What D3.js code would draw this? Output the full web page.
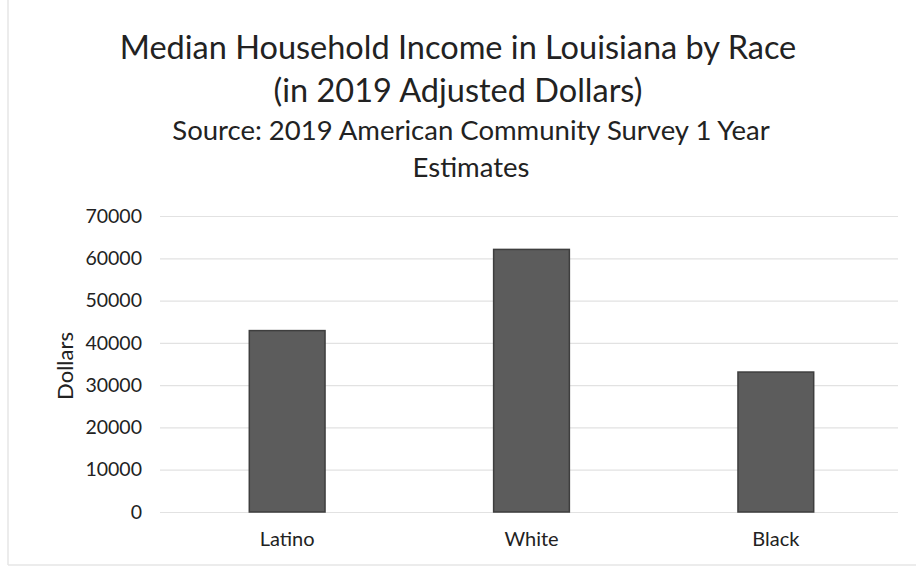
<!DOCTYPE html>
<html>
<head>
<meta charset="utf-8">
<script src="https://cdn.jsdelivr.net/npm/d3@7"></script>
<style>
  html, body { margin: 0; padding: 0; background: #fff; }
  svg { display: block; }
  text { font-family: Lato, "Open Sans", sans-serif; fill: #222; }
</style>
</head>
<body>
<svg id="chart" width="916" height="571"></svg>
<script>
// Median household income by race, Louisiana (2019 dollars)
const categories = ["Latino", "White", "Black"];
const incomes = [42900, 62100, 33100];
const tickValues = [0, 10000, 20000, 30000, 40000, 50000, 60000, 70000];
const titleLines = ["Median Household Income in Louisiana by Race", "(in 2019 Adjusted Dollars)"];
const subtitleLines = ["Source: 2019 American Community Survey 1 Year", "Estimates"];
const yLabel = "Dollars";

const svg = d3.select("#chart");
const W = 916, H = 571;
const margin = { top: 216, right: 18, bottom: 59, left: 165 };

const x = d3.scaleBand()
  .domain(categories)
  .range([margin.left, W - margin.right])
  .paddingInner(0.69)
  .paddingOuter(0.345);

const y = d3.scaleLinear()
  .domain([0, 70000])
  .range([H - margin.bottom, margin.top]);

// faint frame edges
svg.append("line").attr("x1", 8).attr("x2", 8).attr("y1", 0).attr("y2", 565)
  .attr("stroke", "#e6e6e6").attr("stroke-width", 1.5);
svg.append("line").attr("x1", 8).attr("x2", W).attr("y1", 565).attr("y2", 565)
  .attr("stroke", "#e6e6e6").attr("stroke-width", 1.5);

// gridlines
svg.append("g")
  .attr("transform", `translate(${margin.left - 5},0)`)
  .call(d3.axisLeft(y).tickValues(tickValues).tickSize(-(W - margin.right - margin.left + 5)).tickFormat(""))
  .call(g => g.select(".domain").remove())
  .call(g => g.selectAll("line").attr("stroke", "#e2e2e2").attr("stroke-width", 1.2));

// y tick labels
svg.append("g")
  .attr("transform", `translate(${margin.left - 23},0)`)
  .call(d3.axisLeft(y).tickValues(tickValues).tickSize(0).tickPadding(0).tickFormat(d3.format("d")))
  .call(g => g.select(".domain").remove())
  .call(g => g.selectAll("text")
    .style("font-size", "19.5px")
    .attr("fill", "#222"));

// bars
svg.append("g").selectAll("rect")
  .data(incomes)
  .join("rect")
  .attr("x", (d, i) => x(categories[i]))
  .attr("width", x.bandwidth())
  .attr("y", d => y(d))
  .attr("height", d => y(0) - y(d))
  .attr("fill", "#5c5c5c")
  .attr("stroke", "#3e3e3e")
  .attr("stroke-width", 1.5);

// category labels
svg.append("g")
  .attr("transform", `translate(0,${y(0)})`)
  .call(d3.axisBottom(x).tickSize(0).tickPadding(20))
  .call(g => g.select(".domain").remove())
  .call(g => g.selectAll("text").style("font-size", "20px").attr("fill", "#222"));

// y axis title
svg.append("text")
  .attr("transform", `translate(73,366) rotate(-90)`)
  .attr("text-anchor", "middle")
  .style("font-size", "22px")
  .text(yLabel);

// titles
svg.append("g").selectAll("text")
  .data(titleLines)
  .join("text")
  .attr("x", 458)
  .attr("y", (d, i) => 59 + i * 43)
  .attr("text-anchor", "middle")
  .style("font-size", "32.5px")
  .text(d => d);

svg.append("g").selectAll("text")
  .data(subtitleLines)
  .join("text")
  .attr("x", 471)
  .attr("y", (d, i) => 140 + i * 37)
  .attr("text-anchor", "middle")
  .style("font-size", "27.5px")
  .text(d => d);
</script>
</body>
</html>
